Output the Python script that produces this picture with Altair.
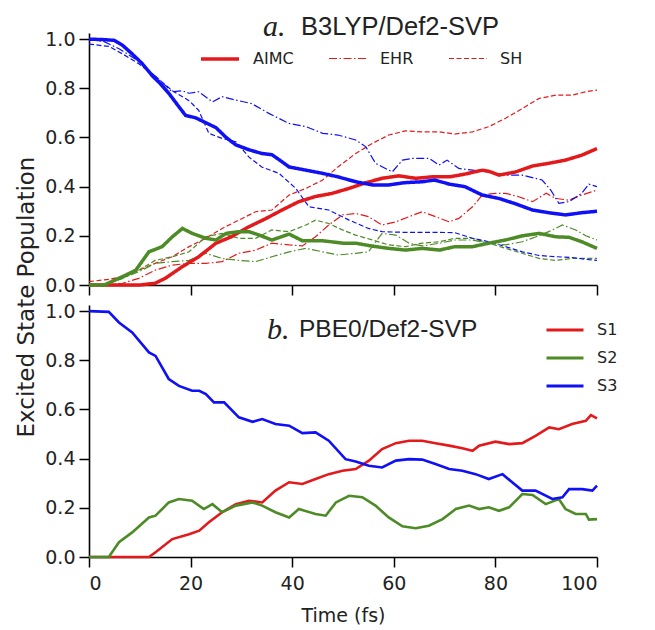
import altair as alt
import pandas as pd

RED, GREEN, BLUE = "#e31a1c", "#4d8b26", "#1010f5"
STATES = ["S1", "S2", "S3"]
METHODS = ["AIMC", "EHR", "SH"]
TICKS_X = [0, 20, 40, 60, 80, 100]
TICKS_Y = [0.0, 0.2, 0.4, 0.6, 0.8, 1.0]

# ---------------- panel a: B3LYP/Def2-SVP ----------------
a_aimc_s3_t = [0, 3, 5, 6.6, 8.5, 10.5, 12.5, 14, 15.7, 17.7, 19, 21, 23, 25, 27, 28.9, 31.5, 34, 36, 37.4, 39.4, 42.7, 46, 49, 52.5, 55.8, 59, 62, 65.6, 68, 71, 74, 77.4, 80.7, 84, 87.3, 90.5, 93.8, 97, 100]
a_aimc_s3_v = [1.0, 0.998, 0.995, 0.975, 0.94, 0.90, 0.85, 0.82, 0.78, 0.725, 0.69, 0.68, 0.66, 0.64, 0.60, 0.57, 0.55, 0.535, 0.53, 0.51, 0.48, 0.467, 0.454, 0.44, 0.42, 0.407, 0.407, 0.416, 0.42, 0.427, 0.41, 0.40, 0.366, 0.352, 0.33, 0.305, 0.294, 0.285, 0.294, 0.30]

a_aimc_s1_t = [0, 10, 13, 15, 18.4, 21.6, 25, 28, 31.5, 34.8, 38, 41.3, 44.6, 47.9, 51.2, 54.5, 57.7, 61, 64.3, 67.6, 71, 74, 77.4, 78.8, 80.7, 84, 87.3, 90.5, 93.8, 97, 100]
a_aimc_s1_v = [0, 0, 0.007, 0.027, 0.075, 0.115, 0.17, 0.196, 0.237, 0.27, 0.305, 0.339, 0.36, 0.373, 0.393, 0.416, 0.434, 0.444, 0.434, 0.44, 0.44, 0.451, 0.467, 0.462, 0.447, 0.46, 0.484, 0.495, 0.508, 0.528, 0.555]

a_aimc_s2_t = [0, 3, 6.6, 9.2, 11.8, 14.4, 16.4, 18.4, 20.3, 23, 25, 27, 29.5, 31.5, 33.5, 36, 39.4, 42, 46, 50, 52.5, 55.8, 59, 62.3, 65.6, 69, 72, 75.5, 78.7, 82, 85.3, 88.6, 91.9, 94.5, 97, 100]
a_aimc_s2_v = [0, 0, 0.034, 0.06, 0.135, 0.156, 0.196, 0.23, 0.21, 0.19, 0.183, 0.21, 0.217, 0.217, 0.203, 0.183, 0.207, 0.18, 0.18, 0.17, 0.17, 0.158, 0.149, 0.142, 0.149, 0.142, 0.156, 0.156, 0.17, 0.183, 0.20, 0.21, 0.196, 0.194, 0.176, 0.149]

a_ehr_s3_t = [0, 3, 6, 9.8, 13, 16.4, 18.4, 19.7, 21.6, 24.3, 26.2, 28.9, 32, 35.4, 39.4, 42.7, 46, 49, 52.5, 54.5, 56.4, 57.7, 59.7, 61.7, 63.6, 67, 68.9, 70.5, 72.8, 75.5, 78.7, 82, 85.3, 89.2, 90.9, 92.5, 94.5, 97, 98.4, 100]
a_ehr_s3_v = [1.0, 0.99, 0.96, 0.91, 0.85, 0.786, 0.79, 0.78, 0.786, 0.745, 0.766, 0.752, 0.738, 0.698, 0.657, 0.644, 0.617, 0.61, 0.59, 0.562, 0.495, 0.481, 0.46, 0.508, 0.515, 0.515, 0.488, 0.508, 0.474, 0.467, 0.46, 0.447, 0.447, 0.427, 0.386, 0.332, 0.339, 0.373, 0.41, 0.40]

a_ehr_s1_t = [0, 4, 6.6, 9.8, 13, 16.4, 19.7, 23, 26.2, 29.5, 32.8, 36, 39.4, 42, 44.6, 47.2, 49.9, 52.5, 55, 57.7, 60.4, 63, 65.6, 68.2, 70.9, 72.8, 75.5, 77.4, 80, 82, 84.6, 87.3, 90, 91.9, 94.5, 97, 100]
a_ehr_s1_v = [0, 0, 0.007, 0.027, 0.06, 0.081, 0.088, 0.088, 0.095, 0.129, 0.142, 0.17, 0.163, 0.159, 0.196, 0.244, 0.285, 0.291, 0.278, 0.244, 0.257, 0.278, 0.298, 0.278, 0.257, 0.271, 0.318, 0.366, 0.373, 0.373, 0.359, 0.339, 0.373, 0.352, 0.345, 0.366, 0.386]

a_ehr_s2_t = [0, 3, 6.6, 9.8, 13, 16.4, 19.7, 23, 26.2, 29.5, 32.8, 36, 39.4, 42.7, 46, 49, 52.5, 55, 57.7, 60.4, 63, 65.6, 69, 72, 75.5, 78.7, 82, 85.3, 88, 90.5, 93.2, 95.8, 97.8, 100]
a_ehr_s2_v = [0, 0, 0.027, 0.054, 0.088, 0.095, 0.10, 0.129, 0.108, 0.10, 0.095, 0.115, 0.135, 0.149, 0.135, 0.122, 0.129, 0.135, 0.21, 0.203, 0.17, 0.159, 0.17, 0.183, 0.183, 0.17, 0.163, 0.176, 0.196, 0.217, 0.244, 0.224, 0.20, 0.183]

a_sh_s3_t = [0, 4, 6.6, 9.8, 13, 16.4, 19.7, 21.6, 23.6, 26.2, 28.9, 31.5, 34, 37.4, 40.7, 43.3, 47.2, 51.2, 55, 57.7, 62.3, 65.6, 69, 72, 75.5, 78.7, 82, 85.3, 88.6, 91.9, 95, 97.8, 100]
a_sh_s3_v = [0.98, 0.97, 0.94, 0.90, 0.85, 0.79, 0.75, 0.71, 0.617, 0.596, 0.583, 0.52, 0.48, 0.454, 0.393, 0.318, 0.305, 0.264, 0.23, 0.217, 0.214, 0.214, 0.214, 0.213, 0.19, 0.176, 0.156, 0.135, 0.12, 0.115, 0.112, 0.104, 0.10]

a_sh_s1_t = [0, 4, 6.6, 9.8, 13, 16.4, 19.7, 23, 26.2, 29.5, 32.8, 36, 39.4, 42.7, 46, 49, 52.5, 55.8, 59, 62.3, 65.6, 69, 72, 75.5, 78.7, 82, 85.3, 88.6, 91.9, 95, 97.8, 100]
a_sh_s1_v = [0.014, 0.023, 0.034, 0.06, 0.088, 0.115, 0.156, 0.19, 0.23, 0.264, 0.298, 0.305, 0.366, 0.393, 0.427, 0.48, 0.535, 0.576, 0.61, 0.627, 0.623, 0.623, 0.614, 0.623, 0.644, 0.678, 0.718, 0.759, 0.772, 0.772, 0.786, 0.793]

a_sh_s2_t = [0, 3, 6.6, 9.8, 13, 16.4, 19.7, 23, 26.2, 29.5, 32.8, 36, 39.4, 42.7, 44.6, 47.2, 49.9, 52.5, 55.8, 59, 62.3, 65.6, 69, 72, 75.5, 78.7, 82, 85.3, 88.6, 91.9, 95, 97.8, 100]
a_sh_s2_v = [0, 0, 0.027, 0.06, 0.10, 0.115, 0.135, 0.196, 0.21, 0.19, 0.19, 0.224, 0.217, 0.244, 0.264, 0.25, 0.224, 0.203, 0.183, 0.163, 0.156, 0.17, 0.176, 0.19, 0.19, 0.17, 0.149, 0.129, 0.108, 0.10, 0.108, 0.108, 0.108]

# ---------------- panel b: PBE0/Def2-SVP ----------------
b_s3_t = [0, 3.9, 5.9, 8.5, 11.8, 13.1, 15.7, 17.7, 20.3, 21.7, 23, 24.6, 26.6, 29.5, 32.2, 34.1, 36.7, 39.4, 42, 44.6, 47.2, 50.5, 52.5, 55.1, 57.7, 60.4, 63, 65.6, 68.2, 70.9, 73.5, 76.1, 78.7, 81.4, 83.3, 85.3, 87.9, 91.2, 93.2, 94.5, 97.1, 99.1, 100]
b_s3_v = [1.0, 0.997, 0.954, 0.913, 0.832, 0.818, 0.724, 0.696, 0.676, 0.676, 0.663, 0.629, 0.629, 0.568, 0.55, 0.561, 0.541, 0.534, 0.504, 0.507, 0.473, 0.398, 0.388, 0.371, 0.364, 0.392, 0.398, 0.396, 0.378, 0.358, 0.351, 0.337, 0.317, 0.337, 0.304, 0.27, 0.27, 0.236, 0.243, 0.276, 0.276, 0.27, 0.29]

b_s1_t = [0, 11.8, 13.1, 16.4, 19.7, 21.7, 23.6, 26.2, 28.9, 31.5, 34.1, 36.7, 39.4, 42, 44.6, 47.2, 49.9, 52.5, 55.1, 57.7, 60.4, 63, 65.6, 68.2, 70.9, 73.5, 75.5, 76.8, 80, 82.7, 85.3, 87.9, 90.6, 92.5, 95.1, 97.8, 98.8, 100]
b_s1_v = [0, 0, 0.019, 0.073, 0.093, 0.107, 0.141, 0.182, 0.215, 0.229, 0.222, 0.27, 0.304, 0.297, 0.317, 0.337, 0.351, 0.358, 0.392, 0.439, 0.463, 0.473, 0.473, 0.463, 0.453, 0.442, 0.432, 0.453, 0.469, 0.459, 0.463, 0.493, 0.527, 0.52, 0.541, 0.554, 0.577, 0.564]

b_s2_t = [0, 3.9, 5.9, 8.5, 11.8, 13.1, 15.7, 17.7, 20.3, 22.6, 24.3, 26.2, 28.9, 32.2, 34.1, 36.7, 39.4, 41.3, 44.6, 46.6, 48.6, 51.2, 53.8, 56.4, 59, 61.7, 64.3, 66.9, 69.6, 72.2, 74.8, 76.8, 78.7, 80.7, 82.7, 85.3, 87.3, 89.9, 92.5, 93.8, 95.8, 97.8, 98.4, 100]
b_s2_v = [0, 0, 0.06, 0.10, 0.161, 0.168, 0.222, 0.236, 0.229, 0.195, 0.215, 0.182, 0.209, 0.222, 0.209, 0.182, 0.161, 0.195, 0.175, 0.168, 0.222, 0.249, 0.243, 0.209, 0.161, 0.125, 0.117, 0.127, 0.154, 0.195, 0.209, 0.195, 0.202, 0.188, 0.202, 0.256, 0.252, 0.215, 0.236, 0.195, 0.175, 0.175, 0.152, 0.154]


def series(method, state, t, v):
    return pd.DataFrame({"t": t, "v": v, "method": method, "state": state,
                         "series": f"{method}-{state}"})


top_df = pd.concat([
    series("SH", "S1", a_sh_s1_t, a_sh_s1_v),
    series("SH", "S2", a_sh_s2_t, a_sh_s2_v),
    series("SH", "S3", a_sh_s3_t, a_sh_s3_v),
    series("EHR", "S1", a_ehr_s1_t, a_ehr_s1_v),
    series("EHR", "S2", a_ehr_s2_t, a_ehr_s2_v),
    series("EHR", "S3", a_ehr_s3_t, a_ehr_s3_v),
    series("AIMC", "S1", a_aimc_s1_t, a_aimc_s1_v),
    series("AIMC", "S2", a_aimc_s2_t, a_aimc_s2_v),
    series("AIMC", "S3", a_aimc_s3_t, a_aimc_s3_v),
], ignore_index=True)

bot_df = pd.concat([
    series("AIMC", "S1", b_s1_t, b_s1_v),
    series("AIMC", "S2", b_s2_t, b_s2_v),
    series("AIMC", "S3", b_s3_t, b_s3_v),
], ignore_index=True)

W, H = 508, 252
TXT = "#222222"
xscale = alt.Scale(domain=[0, 100], nice=False)
yscale = alt.Scale(domain=[0, 1.025], nice=False)
y_enc = alt.Y("v:Q", scale=yscale,
              axis=alt.Axis(values=TICKS_Y, format=".1f", title=None))
color_enc_scale = alt.Scale(domain=STATES, range=[RED, GREEN, BLUE])

leg_top = alt.Legend(title=None, orient="none", legendX=110, legendY=5,
                     direction="horizontal", symbolType="stroke", symbolSize=1444,
                     symbolStrokeColor=RED, labelFontSize=16, labelOffset=12,
                     columnPadding=32, padding=0, labelFont="DejaVu Sans",
                     labelColor=TXT)

top_lines = alt.Chart(top_df).mark_line().encode(
    x=alt.X("t:Q", scale=xscale,
            axis=alt.Axis(values=TICKS_X, labels=False, title=None)),
    y=y_enc,
    color=alt.Color("state:N", scale=color_enc_scale, legend=None),
    strokeDash=alt.StrokeDash("method:N", scale=alt.Scale(
        type="ordinal", domain=METHODS,
        range=[[1, 0], [8, 2.5, 1.5, 2.5], [5, 2.5]]), legend=leg_top),
    strokeWidth=alt.StrokeWidth("method:N", scale=alt.Scale(
        type="ordinal", domain=METHODS, range=[3.5, 1.2, 1.2]), legend=leg_top),
    detail="series:N",
)

ta = alt.Chart(pd.DataFrame({"s": ["a."]})).mark_text(
    font="Liberation Serif", fontStyle="italic", fontSize=30, align="left",
    baseline="middle", color=TXT).encode(
    x=alt.value(174), y=alt.value(-6), text="s:N")
tt = alt.Chart(pd.DataFrame({"s": ["B3LYP/Def2-SVP"]})).mark_text(
    font="Liberation Sans", fontSize=25.5, align="left", baseline="middle",
    color=TXT).encode(x=alt.value(212), y=alt.value(-6), text="s:N")

top = alt.layer(top_lines, ta, tt).properties(width=W, height=H)

bot_lines = alt.Chart(bot_df).mark_line(strokeWidth=2.6).encode(
    x=alt.X("t:Q", scale=xscale,
            axis=alt.Axis(values=TICKS_X, title="Time (fs)", labelPadding=7,
                          titlePadding=13)),
    y=y_enc,
    color=alt.Color("state:N", scale=color_enc_scale, legend=alt.Legend(
        title=None, orient="none", legendX=456, legendY=5, symbolType="stroke",
        symbolSize=1369, symbolStrokeWidth=3, labelFontSize=16, labelOffset=12,
        rowPadding=-16, padding=0, labelFont="DejaVu Sans", labelColor=TXT)),
    detail="series:N",
)

tb = alt.Chart(pd.DataFrame({"s": ["b."]})).mark_text(
    font="Liberation Serif", fontStyle="italic", fontSize=30, align="left",
    baseline="middle", color=TXT).encode(
    x=alt.value(178), y=alt.value(25), text="s:N")
tbt = alt.Chart(pd.DataFrame({"s": ["PBE0/Def2-SVP"]})).mark_text(
    font="Liberation Sans", fontSize=24.5, align="left", baseline="middle",
    color=TXT).encode(x=alt.value(210), y=alt.value(25), text="s:N")
ytitle = alt.Chart(pd.DataFrame({"s": ["Excited State Population"]})).mark_text(
    font="DejaVu Sans", fontSize=23, align="center", baseline="middle",
    angle=270, color=TXT).encode(x=alt.value(-62), y=alt.value(-8), text="s:N")

bottom = alt.layer(bot_lines, tb, tbt, ytitle).properties(width=W, height=H)

chart = alt.vconcat(top, bottom, spacing=20, bounds="flush").resolve_scale(
    color="independent", strokeDash="independent", strokeWidth="independent"
).resolve_legend(
    color="independent", strokeDash="independent", strokeWidth="independent"
).properties(
    padding={"left": 7, "top": 4, "right": 5, "bottom": 5}
).configure_view(stroke=None).configure_axis(
    domainColor="black", domainWidth=1.6, tickColor="black", tickWidth=1.5,
    tickSize=10, labelFont="DejaVu Sans", labelFontSize=19, labelColor=TXT,
    titleFont="DejaVu Sans", titleFontSize=19, titleFontWeight="normal",
    titleColor=TXT, grid=False, labelPadding=4
)

chart.save("out.html", embed_options={"renderer": "svg", "actions": False})
